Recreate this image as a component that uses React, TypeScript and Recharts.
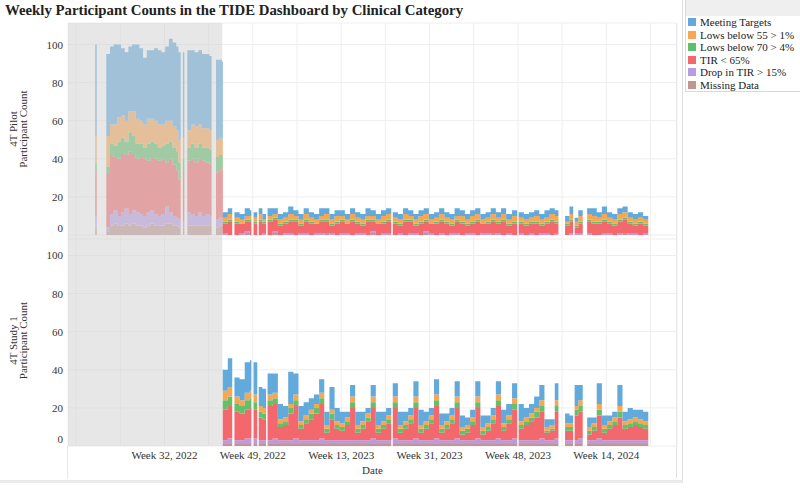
import { Area, CartesianGrid, ComposedChart, ReferenceArea, XAxis, YAxis } from "recharts";

// Stack order is bottom-up in the chart, top-down in the legend.
const SERIES = [
  { key: "meet", name: "Meeting Targets", color: "#62aadb" },
  { key: "low55", name: "Lows below 55 > 1%", color: "#f8a652" },
  { key: "low70", name: "Lows below 70 > 4%", color: "#62bf6a" },
  { key: "tir", name: "TIR < 65%", color: "#f3686c" },
  { key: "drop", name: "Drop in TIR > 15%", color: "#b99be2" },
  { key: "missing", name: "Missing Data", color: "#c29690" },
];

// x values are days counted from the Monday of Week 32, 2022
const X_DOMAIN: [number, number] = [-131, 696];
const GRID_DAYS = [-120, -60, 0, 60, 120, 180, 240, 300, 360, 420, 480, 540, 600, 660];
const LABEL_DAYS = [0, 120, 240, 360, 480, 600];
const WEEK_LABELS = ["Week 32, 2022", "Week 49, 2022", "Week 13, 2023", "Week 31, 2023", "Week 48, 2023", "Week 14, 2024"];
const Y_TICKS = [0, 20, 40, 60, 80, 100];
const PILOT_END_DAY = 78.5;

// days with no upload at all (breaks in the areas)
const GAP_DAYS = [-86, 23, 29, 67, 93, 119, 127, 139, 309, 480, 539, 556, 571];

// 4T Pilot, before the study cohort joined
const PILOT_EARLY_DAYS = [-94, -92, -79, -74, -69, -64, -59, -54, -49, -44, -39, -34, -29, -24, -19, -14, -9, -4, 1, 6, 11, 16, 19, 22, 25, 27, 31, 36, 41, 46, 51, 56, 61, 64, 70, 74, 78];
const PILOT_EARLY_MEET = [48, 48, 43, 41, 42, 38, 35, 36, 34, 35, 39, 38, 35, 36, 36, 38, 39, 38, 39, 43, 44, 44, 46, 46, 45, 44, 42, 39, 39, 39, 39, 39, 39, 40, 42, 41, 41];
const PILOT_EARLY_LOW55 = [14, 14, 16, 10, 11, 13, 12, 11, 11, 13, 13, 12, 12, 13, 12, 12, 12, 11, 12, 11, 11, 11, 12, 12, 11, 10, 9, 10, 11, 10, 10, 10, 10, 10, 9, 9, 8];
const PILOT_EARLY_LOW70 = [5, 5, 4, 6, 6, 9, 8, 7, 10, 10, 8, 7, 6, 9, 8, 8, 7, 7, 10, 9, 9, 10, 9, 9, 6, 6, 7, 8, 8, 8, 7, 8, 8, 8, 8, 8, 7];
const PILOT_EARLY_TIR = [23, 23, 28, 31, 28, 30, 31, 28, 33, 29, 28, 30, 30, 27, 28, 29, 29, 29, 23, 28, 27, 25, 21, 21, 27, 27, 27, 29, 28, 28, 29, 27, 27, 27, 25, 25, 27];
const PILOT_EARLY_DROP = [6, 6, 2, 6, 7, 5, 7, 8, 6, 7, 7, 6, 6, 7, 7, 6, 5, 6, 9, 6, 5, 4, 4, 4, 3, 5, 7, 6, 5, 7, 5, 6, 5, 4, 4, 4, 3];
const PILOT_EARLY_MISSING = [4, 4, 2, 5, 6, 5, 5, 6, 5, 6, 5, 5, 4, 5, 6, 5, 5, 5, 6, 6, 5, 5, 4, 4, 4, 4, 5, 5, 5, 5, 5, 5, 5, 5, 4, 5, 5];

// shared weekly sampling once 4T Study 1 starts
const FOLLOW_DAYS = [
  79, 86, 92, 95, 102, 109, 116, 118, 121, 126,
  128, 133, 138, 140, 147, 154, 161, 168, 175, 182,
  189, 196, 203, 210, 217, 224, 231, 238, 245, 252,
  259, 266, 273, 280, 287, 294, 301, 308, 310, 317,
  324, 331, 338, 345, 352, 359, 366, 373, 380, 387,
  394, 401, 408, 415, 422, 429, 436, 443, 450, 457,
  464, 472, 479, 481, 488, 495, 502, 509, 516, 523,
  530, 535, 544, 550, 555, 557, 562, 568, 574, 580,
  587, 594, 601, 608, 615, 622, 629, 636, 643, 650,
  657,
];

const PILOT_MEET = [
  3, 3, 3, 3, 3, 4, 3, 3, 3, 3, 3, 3, 3, 4, 3, 3, 3, 4, 3, 3,
  3, 3, 3, 4, 3, 3, 3, 3, 3, 3, 3, 3, 4, 3, 3, 3, 3, 3, 3, 3,
  3, 3, 3, 3, 3, 3, 3, 3, 3, 3, 4, 3, 3, 3, 3, 3, 3, 3, 3, 3,
  3, 3, 3, 3, 3, 3, 3, 3, 4, 3, 3, 3, 3, 4, 3, 2, 3, 3, 3, 4,
  3, 4, 3, 3, 3, 3, 3, 3, 3, 2, 2,
];
const PILOT_LOW55 = [
  2, 3, 3, 2, 2, 2, 2, 2, 2, 3, 3, 1, 2, 2, 2, 2, 2, 3, 2, 2,
  3, 2, 2, 2, 3, 2, 3, 2, 2, 3, 2, 2, 2, 2, 2, 3, 3, 2, 2, 2,
  3, 2, 2, 3, 3, 2, 2, 3, 2, 2, 2, 3, 2, 3, 3, 2, 2, 3, 2, 3,
  2, 3, 2, 2, 2, 2, 3, 2, 2, 3, 3, 3, 1, 3, 3, 2, 3, 2, 3, 3,
  2, 3, 2, 2, 3, 3, 2, 2, 2, 2, 2,
];
const PILOT_LOW70 = [
  1, 1, 1, 1, 0, 1, 1, 1, 1, 1, 1, 1, 1, 1, 1, 1, 1, 1, 1, 1,
  1, 1, 0, 1, 1, 1, 1, 1, 0, 1, 1, 1, 1, 1, 0, 1, 1, 1, 1, 1,
  1, 1, 1, 1, 1, 0, 1, 1, 1, 1, 1, 1, 1, 1, 1, 0, 1, 1, 1, 1,
  1, 1, 1, 1, 1, 1, 1, 1, 1, 1, 1, 1, 1, 1, 1, 1, 1, 0, 1, 1,
  1, 1, 1, 1, 1, 1, 1, 1, 1, 1, 0,
];
const PILOT_TIR = [
  5, 7, 6, 6, 5, 5, 7, 6, 6, 6, 7, 5, 5, 7, 6, 5, 5, 6, 7, 4,
  6, 6, 5, 6, 6, 4, 6, 6, 5, 7, 5, 4, 7, 5, 6, 5, 6, 6, 6, 4,
  7, 6, 4, 6, 5, 5, 6, 6, 6, 4, 6, 6, 4, 5, 7, 5, 5, 6, 5, 7,
  4, 6, 5, 5, 5, 5, 6, 4, 5, 7, 5, 5, 5, 6, 7, 3, 5, 5, 6, 6,
  6, 6, 5, 5, 6, 7, 5, 4, 6, 4, 4,
];
const PILOT_DROP = [
  1, 0, 1, 0, 1, 1, 0, 1, 0, 1, 0, 1, 1, 0, 1, 0, 1, 1, 0, 1,
  1, 0, 1, 1, 0, 1, 0, 1, 1, 0, 1, 1, 0, 1, 0, 1, 1, 0, 0, 1,
  0, 1, 1, 0, 1, 1, 0, 1, 0, 1, 1, 0, 1, 1, 0, 1, 1, 0, 1, 0,
  1, 0, 1, 1, 0, 1, 0, 1, 1, 0, 1, 1, 0, 1, 0, 1, 1, 0, 1, 0,
  0, 1, 1, 0, 1, 0, 1, 1, 0, 1, 1,
];
const PILOT_MISSING = [
  0, 0, 0, 0, 0, 1, 0, 0, 0, 0, 0, 0, 0, 0, 1, 0, 0, 0, 0, 0,
  0, 0, 0, 0, 1, 0, 0, 0, 0, 0, 0, 0, 0, 1, 0, 0, 0, 0, 0, 0,
  0, 0, 0, 0, 1, 0, 0, 0, 0, 0, 0, 0, 0, 0, 0, 0, 0, 1, 0, 0,
  0, 0, 0, 0, 0, 0, 0, 0, 0, 0, 0, 0, 0, 0, 0, 0, 0, 0, 0, 0,
  0, 0, 0, 0, 0, 1, 0, 0, 0, 0, 0,
];

const STUDY_MEET = [
  11, 15, 17, 10, 11, 16, 16, 16, 17, 18, 10, 10, 9, 11, 10, 8, 6, 17, 11, 8,
  7, 6, 5, 7, 7, 12, 7, 6, 3, 6, 7, 5, 3, 6, 7, 5, 4, 3, 7, 7,
  5, 4, 8, 8, 5, 4, 8, 6, 4, 4, 8, 6, 4, 4, 8, 6, 4, 4, 7, 7,
  6, 8, 8, 9, 5, 5, 6, 8, 4, 3, 9, 9, 5, 4, 4, 11, 8, 6, 5, 3,
  11, 5, 3, 3, 11, 5, 6, 4, 5, 5, 4,
];
const STUDY_LOW55 = [
  5, 5, 5, 4, 3, 4, 4, 4, 4, 3, 3, 3, 3, 3, 3, 2, 2, 2, 3, 2,
  2, 2, 2, 3, 2, 2, 2, 2, 2, 3, 2, 2, 2, 3, 2, 2, 2, 2, 3, 2,
  2, 2, 3, 2, 2, 2, 3, 2, 2, 2, 3, 2, 2, 2, 3, 2, 2, 2, 3, 2,
  2, 3, 3, 2, 2, 2, 2, 3, 2, 2, 3, 3, 2, 2, 2, 2, 3, 2, 2, 2,
  3, 2, 2, 2, 3, 2, 2, 2, 2, 2, 2,
];
const STUDY_LOW70 = [
  5, 5, 5, 4, 4, 5, 5, 4, 4, 4, 3, 3, 3, 3, 3, 2, 2, 3, 3, 2,
  2, 3, 3, 3, 2, 3, 2, 2, 2, 3, 2, 2, 2, 3, 2, 2, 2, 2, 3, 2,
  2, 2, 3, 2, 2, 2, 3, 2, 2, 2, 3, 2, 2, 2, 3, 2, 2, 2, 3, 2,
  2, 3, 3, 2, 2, 2, 3, 3, 1, 1, 3, 3, 2, 2, 2, 3, 3, 2, 2, 2,
  3, 2, 2, 2, 3, 2, 2, 2, 2, 2, 2,
];
const STUDY_TIR = [
  16, 17, 16, 15, 14, 15, 16, 16, 15, 14, 12, 11, 12, 18, 18, 7, 8, 14, 17, 6,
  9, 11, 14, 18, 4, 11, 6, 5, 8, 17, 4, 6, 10, 16, 4, 6, 9, 11, 16, 4,
  6, 9, 16, 4, 6, 9, 17, 4, 6, 9, 16, 3, 4, 8, 16, 3, 5, 9, 17, 5,
  9, 15, 15, 6, 8, 10, 12, 14, 4, 5, 14, 14, 5, 5, 5, 13, 14, 5, 3, 5,
  12, 4, 6, 8, 12, 6, 7, 8, 7, 6, 4,
];
const STUDY_DROP = [
  2, 3, 3, 2, 2, 3, 3, 3, 3, 2, 2, 2, 2, 2, 3, 2, 2, 2, 3, 2,
  2, 2, 2, 3, 2, 2, 2, 2, 2, 2, 2, 2, 2, 3, 2, 2, 2, 2, 3, 2,
  2, 2, 3, 2, 2, 2, 3, 2, 2, 2, 3, 2, 2, 2, 3, 2, 2, 2, 3, 2,
  2, 3, 3, 2, 2, 2, 2, 3, 2, 2, 3, 3, 2, 2, 2, 2, 3, 2, 2, 2,
  3, 2, 2, 2, 2, 2, 2, 2, 2, 2, 1,
];
const STUDY_MISSING = [
  1, 1, 1, 1, 1, 1, 1, 1, 1, 1, 1, 1, 1, 1, 1, 1, 1, 1, 1, 1,
  1, 1, 1, 1, 1, 1, 1, 1, 1, 1, 1, 1, 1, 1, 1, 1, 1, 1, 1, 1,
  1, 1, 1, 1, 1, 1, 1, 1, 1, 1, 1, 1, 1, 1, 1, 1, 1, 1, 1, 1,
  1, 1, 1, 1, 1, 1, 1, 1, 1, 1, 1, 1, 1, 1, 1, 1, 1, 1, 1, 1,
  1, 1, 1, 1, 1, 1, 1, 1, 1, 1, 1,
];

type Row = Record<string, number | null>;

function buildRows(days: number[], values: Record<string, number[]>): Row[] {
  const rows: Row[] = days.map((day, i) => {
    const row: Row = { day };
    SERIES.forEach((s) => {
      row[s.key] = values[s.key][i];
    });
    return row;
  });
  const first = days[0];
  const last = days[days.length - 1];
  GAP_DAYS.filter((d) => d > first && d < last).forEach((d) => {
    const row: Row = { day: d };
    SERIES.forEach((s) => {
      row[s.key] = null;
    });
    rows.push(row);
  });
  return rows.sort((a, b) => (a.day as number) - (b.day as number));
}

const pilotRows = buildRows([...PILOT_EARLY_DAYS, ...FOLLOW_DAYS], {
  meet: [...PILOT_EARLY_MEET, ...PILOT_MEET],
  low55: [...PILOT_EARLY_LOW55, ...PILOT_LOW55],
  low70: [...PILOT_EARLY_LOW70, ...PILOT_LOW70],
  tir: [...PILOT_EARLY_TIR, ...PILOT_TIR],
  drop: [...PILOT_EARLY_DROP, ...PILOT_DROP],
  missing: [...PILOT_EARLY_MISSING, ...PILOT_MISSING],
});

const studyRows = buildRows(FOLLOW_DAYS, {
  meet: STUDY_MEET,
  low55: STUDY_LOW55,
  low70: STUDY_LOW70,
  tir: STUDY_TIR,
  drop: STUDY_DROP,
  missing: STUDY_MISSING,
});

const TEXT = "#333333";

function YTick({ x, y, payload }: any) {
  // Tableau nudges the bottom label up so it stays inside the pane
  const lift = payload.value === 0 ? -7 : 0;
  return (
    <text x={x - 5} y={y + lift} dy={4} textAnchor="end" fontSize={11} fill={TEXT}>
      {payload.value}
    </text>
  );
}

function XTick({ x, y, payload }: any) {
  const i = LABEL_DAYS.indexOf(payload.value);
  if (i < 0) return <g />;
  return (
    <text x={x} y={y} dy={13} textAnchor="middle" fontSize={11} fill={TEXT}>
      {WEEK_LABELS[i]}
    </text>
  );
}

function yTitle(lines: string[]) {
  return ({ viewBox }: any) => {
    const cx = 16.5;
    const cy = viewBox.y + viewBox.height / 2 - 2;
    return (
      <text transform={`rotate(-90, ${cx}, ${cy})`} x={cx} y={cy} textAnchor="middle" fontSize={11} fill={TEXT}>
        <tspan x={cx} dy={0}>{lines[0]}</tspan>
        <tspan x={cx} dy={10.5}>{lines[1]}</tspan>
      </text>
    );
  };
}

function xTitle({ viewBox }: any) {
  return (
    <text x={viewBox.x + viewBox.width / 2} y={viewBox.y + 28} textAnchor="middle" fontSize={11} fill={TEXT}>
      Date
    </text>
  );
}

type PanelProps = {
  rows: Row[];
  top: number;
  height: number;
  yDomain: [number, number];
  title: string[];
  withXAxis?: boolean;
};

function Panel({ rows, top, height, yDomain, title, withXAxis = false }: PanelProps) {
  return (
    <div style={{ position: "absolute", left: 0, top }}>
      <ComposedChart
        width={800}
        height={height}
        data={rows}
        margin={{ top: withXAxis ? 0 : 23, right: 123, bottom: withXAxis ? 11 : 0, left: 0 }}
      >
        <CartesianGrid stroke="#eeeeee" />
        <XAxis
          dataKey="day"
          type="number"
          domain={X_DOMAIN}
          allowDataOverflow
          ticks={GRID_DAYS}
          interval={0}
          hide={!withXAxis}
          height={32}
          axisLine={false}
          tickLine={false}
          tickSize={0}
          tickMargin={0}
          tick={<XTick />}
          label={withXAxis ? xTitle : undefined}
        />
        <YAxis
          type="number"
          domain={yDomain}
          allowDataOverflow
          ticks={Y_TICKS}
          interval={0}
          width={68}
          axisLine={false}
          tickLine={false}
          tickSize={0}
          tickMargin={0}
          tick={<YTick />}
          label={yTitle(title)}
        />
        {[...SERIES].reverse().map((s) => (
          <Area
            key={s.key}
            dataKey={s.key}
            name={s.name}
            stackId="count"
            type="stepAfter"
            fill={s.color}
            fillOpacity={1}
            stroke="none"
            connectNulls={false}
            dot={false}
            activeDot={false}
            isAnimationActive={false}
          />
        ))}
        <ReferenceArea x1={X_DOMAIN[0]} x2={PILOT_END_DAY} fill="#d4d4d4" fillOpacity={0.55} stroke="none" ifOverflow="hidden" />
      </ComposedChart>
    </div>
  );
}

export default function App() {
  return (
    <div
      style={{
        position: "absolute",
        left: 0,
        top: 0,
        width: 800,
        height: 489,
        overflow: "hidden",
        background: "#ffffff",
        fontFamily: '"Liberation Serif", "Times New Roman", serif',
        color: TEXT,
      }}
    >
      {/* worksheet frame */}
      <div style={{ position: "absolute", left: 0, top: 0, width: 682, height: 480, borderRight: "1px solid #dedede", borderBottom: "3px solid #ebebeb" }} />
      <div style={{ position: "absolute", left: 676, top: 23, width: 1, height: 455, background: "#e2e2e2" }} />
      <div style={{ position: "absolute", left: 67, top: 446, width: 1, height: 33, background: "#e8e8e8" }} />

      <div style={{ position: "absolute", left: 5, top: 2, fontSize: 14.8, fontWeight: "bold", color: "#222", whiteSpace: "nowrap" }}>
        Weekly Participant Counts in the TIDE Dashboard by Clinical Category
      </div>

      <Panel rows={pilotRows} top={0} height={239} yDomain={[-2.1, 111.3]} title={["4T Pilot", "Participant Count"]} />
      <Panel rows={studyRows} top={239} height={250} yDomain={[0, 108.66]} title={["4T Study 1", "Participant Count"]} withXAxis />

      <div
        style={{
          position: "absolute",
          left: 685,
          top: 0,
          width: 120,
          height: 91,
          borderLeft: "1px solid #d8d8d8",
          borderBottom: "1px solid #d8d8d8",
          background: "#ffffff",
        }}
      >
        <div style={{ height: 16, background: "#efefef" }} />
        {SERIES.map((s) => (
          <div key={s.key} style={{ display: "flex", alignItems: "center", height: 12.5, fontSize: 11, whiteSpace: "nowrap" }}>
            <span style={{ display: "inline-block", width: 8, height: 8, marginLeft: 2, marginRight: 4, background: s.color }} />
            <span style={{ color: "#222" }}>{s.name}</span>
          </div>
        ))}
      </div>
    </div>
  );
}
